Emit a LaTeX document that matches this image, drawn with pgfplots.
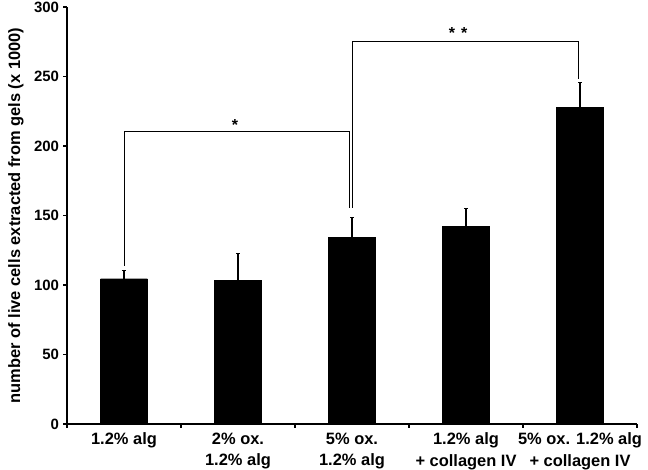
\documentclass[border=0pt]{standalone}
\usepackage{pgfplots}
\pgfplotsset{compat=1.18}
\usepackage{fontspec}
\setmainfont{Liberation Sans}
\begin{document}
\begin{tikzpicture}
% frame of the whole figure, as in the 648x470 reference
\useasboundingbox (-67bp,-46bp) rectangle (581bp,424bp);
\begin{axis}[
    at={(0,0)}, anchor=south west,
    scale only axis,
    width=570bp, height=417bp,
    xmin=-0.5, xmax=4.5,
    ymin=0, ymax=300,
    ytick={0,50,...,300},
    xtick={0,1,2,3,4},
    xticklabels={1.2\% alg, 2\% ox.\\1.2\% alg, 5\% ox.\\1.2\% alg,
                 1.2\% alg\\+ collagen IV, 5\% ox. 1.2\% alg\\+ collagen IV},
    minor xtick={-0.5,0.5,1.5,2.5,3.5,4.5},
    major x tick style={draw=none},
    minor x tick style={black, line width=1.2bp},
    minor tick length=3.5bp,
    major tick length=3.5bp,
    tick align=outside,
    axis x line*=bottom,
    axis y line*=left,
    axis line style={line width=2bp, -},
    y tick style={black, line width=1.2bp},
    /pgf/number format/assume math mode=true,
    xticklabel style={align=center, font=\bfseries\fontsize{16.5}{21.5}\selectfont,
                      yshift=-2bp},
    yticklabel style={font=\bfseries\fontsize{15}{15}\selectfont, xshift=-1bp},
    ylabel={number of live cells extracted from gels (x 1000)},
    ylabel style={font=\bfseries\fontsize{16.5}{16.5}\selectfont,
                  at={(axis description cs:-0.0895,0.5)}, anchor=center},
    ybar,
    bar width=0.41,
    clip=false,
]
    \addplot[fill=black, draw=black,
        error bars/.cd, y dir=plus, y explicit,
        error bar style={line width=1.4bp, black},
        error mark options={rotate=90, line width=1.4bp, mark size=2bp, black}]
    coordinates {
        (0,104.5) +- (0,5.8)
        (1,103.1) +- (0,19.4)
        (2,134.5) +- (0,13.9)
        (3,142.0) +- (0,12.9)
        (4,227.6) +- (0,18.2)
    };

    % significance brackets
    \draw[line width=0.9bp] (axis cs:0,113.9) -- (axis cs:0,210.8)
        -- (axis cs:1.976,210.8) -- (axis cs:1.976,155.6);
    \draw[line width=0.9bp] (axis cs:2.006,155.6) -- (axis cs:2.006,275.5)
        -- (axis cs:3.99,275.5) -- (axis cs:3.99,248);
    \node[anchor=base, inner sep=0pt, font=\bfseries\fontsize{16}{16}\selectfont]
        at (axis cs:0.974,211.5) {*};
    \node[anchor=base, inner sep=0pt, font=\bfseries\fontsize{16}{16}\selectfont]
        at (axis cs:2.93,277.6) {*\hspace{6bp}*};
\end{axis}
\end{tikzpicture}
\end{document}
